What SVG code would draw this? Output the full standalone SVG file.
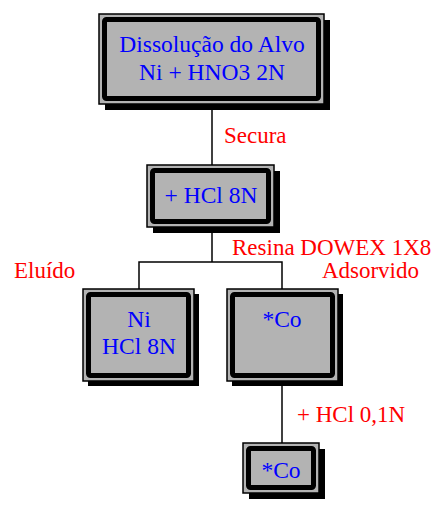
<svg xmlns="http://www.w3.org/2000/svg" width="433" height="507" viewBox="0 0 433 507">
  <style>
    .shadow { fill: #000; }
    .frame { fill: #b3b3b3; stroke: #000; stroke-width: 1.5; }
    .border { fill: #b3b3b3; stroke: #000; stroke-width: 5; }
    .label { font-family: "Liberation Serif", "Times New Roman", serif; font-size: 23.5px; fill: #0000ff; text-anchor: middle; }
    .note { font-family: "Liberation Serif", "Times New Roman", serif; font-size: 23px; fill: #ff0000; }
    .wire { fill: none; stroke: #000; stroke-width: 1.5; }
  </style>

  <!-- connectors -->
  <g id="connectors">
    <path class="wire" d="M212 104 V165"/>
    <path class="wire" d="M212 227 V262"/>
    <path class="wire" d="M139 289 V262 H282 V289"/>
    <path class="wire" d="M282 381 V443"/>
  </g>

  <!-- step labels -->
  <g id="notes">
    <text class="note" x="224" y="143">Secura</text>
    <text class="note" x="232" y="255">Resina DOWEX 1X8</text>
    <text class="note" x="14" y="278">Eluído</text>
    <text class="note" x="419" y="278" text-anchor="end">Adsorvido</text>
    <text class="note" x="297" y="422">+ HCl 0,1N</text>
  </g>

  <!-- dissolution -->
  <g id="dissolucao">
    <rect class="shadow" x="105" y="20" width="225" height="90"/>
    <rect class="frame" x="99" y="14" width="225" height="90"/>
    <rect class="border" x="104.5" y="19.5" width="214" height="79" rx="2"/>
    <text class="label" x="212" y="52">Dissolução do Alvo</text>
    <text class="label" x="212" y="80">Ni + HNO3 2N</text>
  </g>

  <!-- HCl 8N step -->
  <g id="hcl8n">
    <rect class="shadow" x="153" y="171" width="127" height="62"/>
    <rect class="frame" x="147" y="165" width="127" height="62"/>
    <rect class="border" x="152.5" y="170.5" width="116" height="51" rx="2"/>
    <text class="label" x="211" y="203">+ HCl 8N</text>
  </g>

  <!-- eluted fraction -->
  <g id="eluido">
    <rect class="shadow" x="88" y="294" width="111" height="92"/>
    <rect class="frame" x="83" y="289" width="111" height="92"/>
    <rect class="border" x="88.5" y="294.5" width="100" height="81" rx="2"/>
    <text class="label" x="139" y="327">Ni</text>
    <text class="label" x="139" y="354">HCl 8N</text>
  </g>

  <!-- adsorbed fraction -->
  <g id="adsorvido">
    <rect class="shadow" x="232" y="294" width="111" height="92"/>
    <rect class="frame" x="227" y="289" width="111" height="92"/>
    <rect class="border" x="232.5" y="294.5" width="100" height="81" rx="2"/>
    <text class="label" x="282" y="327">*Co</text>
  </g>

  <!-- final cobalt -->
  <g id="cobalto">
    <rect class="shadow" x="249" y="449" width="76" height="50"/>
    <rect class="frame" x="243" y="443" width="76" height="50"/>
    <rect class="border" x="248.5" y="448.5" width="65" height="39" rx="2"/>
    <text class="label" x="281" y="478">*Co</text>
  </g>
</svg>
